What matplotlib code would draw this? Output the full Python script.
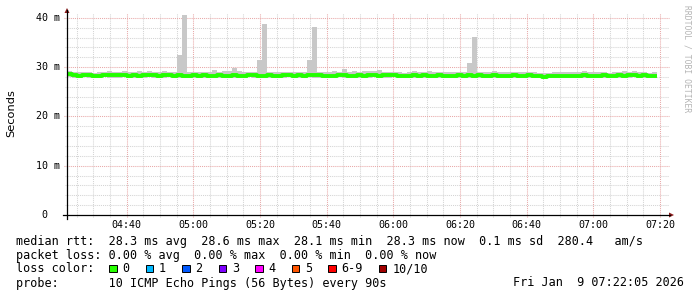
import matplotlib
matplotlib.use("Agg")
import matplotlib.pyplot as plt
from matplotlib.patches import Rectangle, Polygon
from matplotlib.lines import Line2D

# ---- data (ms), one sample every 90 s, starting 04:22:05 ----
start = 4 * 60 + 22 + 5 / 60.0   # minutes since midnight
step = 1.5

median = [
    28.6, 28.4, 28.3, 28.5, 28.4, 28.3, 28.3, 28.5, 28.4, 28.5,
    28.4, 28.5, 28.3, 28.4, 28.3, 28.4, 28.5, 28.4, 28.3, 28.4,
    28.5, 28.3, 28.4, 28.2, 28.3, 28.4, 28.3, 28.4, 28.3, 28.3,
    28.4, 28.2, 28.3, 28.4, 28.3, 28.3, 28.5, 28.4, 28.3, 28.3,
    28.4, 28.3, 28.2, 28.4, 28.5, 28.3, 28.4, 28.3, 28.5, 28.4,
    28.4, 28.2, 28.3, 28.3, 28.5, 28.4, 28.3, 28.2, 28.4, 28.3,
    28.4, 28.5, 28.3, 28.4, 28.4, 28.5, 28.3, 28.2, 28.3, 28.4,
    28.3, 28.4, 28.3, 28.3, 28.4, 28.3, 28.2, 28.3, 28.4, 28.3,
    28.4, 28.3, 28.4, 28.3, 28.2, 28.4, 28.2, 28.3, 28.3, 28.4,
    28.3, 28.3, 28.4, 28.2, 28.2, 28.1, 28.2, 28.3, 28.2, 28.3,
    28.3, 28.2, 28.3, 28.4, 28.2, 28.3, 28.3, 28.4, 28.2, 28.3,
    28.4, 28.3, 28.4, 28.5, 28.3, 28.4, 28.2, 28.3,
]

ping_max = [
    29.2, 29.1, 29.0, 29.1, 29.0, 28.9, 29.0, 29.1, 29.2, 29.1,
    29.1, 29.2, 29.0, 29.1, 29.2, 29.1, 29.3, 29.1, 29.0, 29.2,
    29.1, 29.0, 32.5, 40.6, 29.1, 29.0, 29.1, 29.0, 29.1, 29.5,
    29.1, 29.2, 29.3, 29.8, 29.2, 29.0, 29.0, 29.0, 31.5, 38.8,
    29.1, 29.0, 29.1, 29.0, 29.1, 29.1, 29.0, 29.0, 31.5, 38.2,
    29.1, 29.0, 29.0, 29.2, 29.0, 29.6, 29.1, 29.2, 29.0, 29.2,
    29.3, 29.3, 29.4, 29.1, 29.0, 29.1, 29.0, 28.9, 29.1, 29.2,
    29.1, 29.0, 29.2, 29.0, 29.1, 29.0, 29.0, 29.1, 29.0, 29.0,
    30.9, 36.1, 29.1, 29.0, 29.1, 29.2, 29.0, 29.0, 29.0, 29.0,
    29.0, 29.1, 29.0, 29.0, 28.9, 28.9, 28.9, 29.0, 29.0, 29.1,
    29.1, 29.0, 29.1, 29.3, 29.0, 29.1, 29.0, 29.0, 28.9, 29.0,
    29.1, 29.2, 29.1, 29.2, 29.0, 29.1, 28.8, 29.0,
]

ping_min = [
    28.0, 27.9, 27.9, 28.0, 27.9, 27.8, 27.9, 28.0, 27.9, 27.9,
    27.9, 28.0, 27.8, 27.9, 27.9, 27.8, 28.0, 27.9, 27.9, 27.9,
    28.0, 27.9, 27.9, 27.8, 27.9, 27.9, 27.8, 27.9, 27.9, 27.8,
    27.9, 27.8, 27.9, 27.9, 27.9, 27.8, 28.0, 27.9, 27.9, 27.8,
    27.9, 27.9, 27.8, 27.9, 28.0, 27.9, 27.9, 27.8, 28.0, 27.9,
    27.9, 27.8, 27.9, 27.8, 28.0, 27.9, 27.9, 27.8, 27.9, 27.9,
    27.9, 28.0, 27.9, 27.9, 27.9, 28.0, 27.8, 27.8, 27.9, 27.9,
    27.9, 27.9, 27.8, 27.9, 27.9, 27.9, 27.8, 27.9, 27.9, 27.8,
    27.9, 27.9, 27.9, 27.8, 27.8, 27.9, 27.8, 27.9, 27.9, 27.9,
    27.9, 27.8, 27.9, 27.8, 27.8, 27.7, 27.8, 27.9, 27.8, 27.9,
    27.9, 27.8, 27.9, 27.9, 27.8, 27.9, 27.9, 27.9, 27.8, 27.9,
    27.9, 27.9, 27.9, 28.0, 27.8, 27.9, 27.8, 27.9,
]

x_ticks = [280, 300, 320, 340, 360, 380, 400, 420, 440]
x_labels = ["04:40", "05:00", "05:20", "05:40", "06:00", "06:20", "06:40", "07:00", "07:20"]
y_ticks = [0, 10, 20, 30, 40]
y_labels = ["0  ", "10 m", "20 m", "30 m", "40 m"]

loss_labels = ["0", "1", "2", "3", "4", "5", "6-9", "10/10"]
loss_colors = ["#26ff00", "#00b8ff", "#0059ff", "#7e00ff", "#ff00ff", "#ff5500", "#ff0000", "#a10000"]

W, H = 697, 297
MONO = "DejaVu Sans Mono"


def fx(x):
    return x / W


def fy(y):
    return 1 - y / H


fig = plt.figure(figsize=(W / 100, H / 100), dpi=100)
fig.patch.set_facecolor("white")

# plot area in pixels
L, R, T, B = 67, 667, 13, 215
ax = fig.add_axes([fx(L), fy(B), (R - L) / W, (B - T) / H])
ax.set_xlim(start, start + 180)
ax.set_ylim(0, 41.0)
ax.axis("off")

px_x = 180 / (R - L)
px_y = 41.0 / (B - T)

minor_c = "#d4d4d4"
major_c = "#e8a8a8"
dash = (0, (1, 1))

# grid
for v in range(2, 42, 2):
    if v % 10:
        ax.plot([start - 2 * px_x, start + 180 + 2 * px_x], [v, v], color=minor_c,
                lw=0.75, ls=dash, clip_on=False, zorder=1)
m = 265
while m < start + 180:
    if m > start and m % 20:
        ax.plot([m, m], [-2 * px_y, 41.0], color=minor_c, lw=0.75, ls=dash,
                clip_on=False, zorder=1)
    m += 5
for v in y_ticks[1:]:
    ax.plot([start - 3 * px_x, start + 180 + 2 * px_x], [v, v], color=major_c,
            lw=0.75, ls=dash, clip_on=False, zorder=2)
for t in x_ticks:
    ax.plot([t, t], [-2 * px_y, 41.0], color=major_c, lw=0.75, ls=dash,
            clip_on=False, zorder=2)

# smoke + median
xs = [start + step * i for i in range(len(median))]
heights = [hi - lo for hi, lo in zip(ping_max, ping_min)]
ax.bar(xs, heights, bottom=ping_min, width=step, align="edge",
       color="#c8c8c8", linewidth=0, zorder=3)
ax.step(xs + [xs[-1] + step], median + [median[-1]], where="post",
        color="#22ff00", lw=2.8, zorder=4, solid_capstyle="butt")

# axes lines and arrows
fig.add_artist(Line2D([fx(63), fx(670)], [fy(215), fy(215)], color="black", lw=0.9))
fig.add_artist(Line2D([fx(67), fx(67)], [fy(219), fy(10)], color="black", lw=0.9))
fig.add_artist(Polygon([[fx(669), fy(212.5)], [fx(674), fy(215)], [fx(669), fy(217.5)]],
                       closed=True, color="#8b1a1a", lw=0))
fig.add_artist(Polygon([[fx(64.5), fy(13)], [fx(67), fy(8)], [fx(69.5), fy(13)]],
                       closed=True, color="#8b1a1a", lw=0))

# tick labels
for t, lab in zip(x_ticks, x_labels):
    xp = L + (t - start) / px_x
    fig.text(fx(xp), fy(225), lab, family=MONO, size=7.2, ha="center", va="center")
for v, lab in zip(y_ticks, y_labels):
    yp = B - v / px_y
    fig.text(fx(60), fy(yp), lab, family=MONO, size=7.2, ha="right", va="center")

fig.text(fx(11), fy(113), "Seconds", family="DejaVu Sans", size=8.2, rotation=90,
         ha="center", va="center")
fig.text(fx(687), fy(5), "RRDTOOL / TOBI OETIKER", family=MONO, size=5.8,
         rotation=270, ha="center", va="top", color="#b4b4b4")

# legend text
fs = 8.5
cw = 0.602 * fs * 100 / 72
fig.text(fx(16), fy(241), "median rtt:  28.3 ms avg  28.6 ms max  28.1 ms min  "
         "28.3 ms now  0.1 ms sd  280.4   am/s", family=MONO, size=fs, va="center")
fig.text(fx(16), fy(255), "packet loss: 0.00 % avg  0.00 % max  0.00 % min  0.00 % now",
         family=MONO, size=fs, va="center")
fig.text(fx(16), fy(269), "loss color:", family=MONO, size=fs, va="center")
bx = 109
for lab, col in zip(loss_labels, loss_colors):
    fig.add_artist(Rectangle((fx(bx), fy(272)), 7.5 / W, 7.5 / H, facecolor=col,
                             edgecolor="black", lw=0.7))
    fig.text(fx(bx + 13.5), fy(269), lab, family=MONO, size=fs, va="center")
    bx += 13.5 + (len(lab) + 2) * cw + 1.7
fig.text(fx(16), fy(283), "probe:       10 ICMP Echo Pings (56 Bytes) every 90s",
         family=MONO, size=fs, va="center")
fig.text(fx(513), fy(283), "Fri Jan  9 07:22:05 2026", family=MONO, size=fs, va="center")

fig.savefig("out.png", dpi=100)
